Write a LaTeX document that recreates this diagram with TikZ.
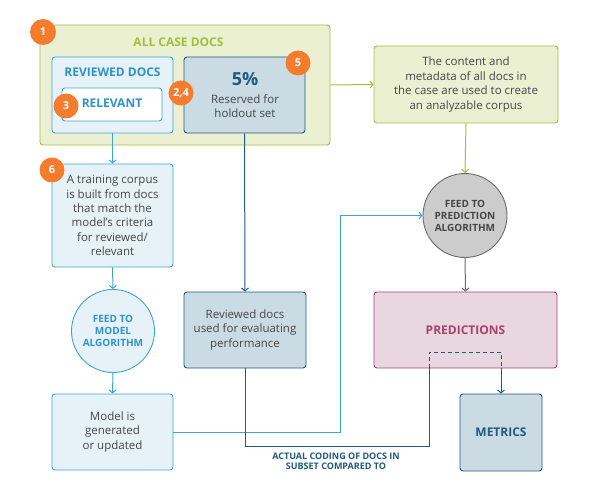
\documentclass[tikz,border=0pt]{standalone}
\usepackage{fontspec}
\setmainfont{Open Sans}
\usepackage{tikz}
\usetikzlibrary{positioning, calc, arrows.meta}

\definecolor{orng}{HTML}{F47C2C}
\definecolor{grn}{HTML}{A3BE3A}
\definecolor{grnfill}{HTML}{EBF0D3}
\definecolor{blu}{HTML}{3FA3D6}
\definecolor{blutxt}{HTML}{2E93C9}
\definecolor{blufill}{HTML}{E6F2F8}
\definecolor{dblu}{HTML}{1F5A80}
\definecolor{dblufill}{HTML}{CBDBE3}
\definecolor{grayfill}{HTML}{CCCCCC}
\definecolor{grayline}{HTML}{6B6B6B}
\definecolor{mag}{HTML}{A5426E}
\definecolor{magfill}{HTML}{E9D7DF}
\definecolor{txt}{HTML}{464646}

\tikzset{
  >={Straight Barb[length=3pt,width=7pt]},
  box/.style={draw, rounded corners=3pt, line width=0.9pt, align=center, inner sep=0pt,
    text=txt, font=\fontsize{11.5}{14.4}\selectfont},
  greenbox/.style={box, draw=grn, fill=grnfill},
  bluebox/.style={box, draw=blu, fill=blufill},
  darkbox/.style={box, draw=dblu, fill=dblufill},
  roundbox/.style={circle, line width=0.9pt, align=center, inner sep=0pt,
    font=\bfseries\fontsize{10}{12}\selectfont},
  badge/.style={circle, fill=orng, text=white, inner sep=0pt, minimum size=25pt,
    font=\bfseries\fontsize{11}{11}\selectfont},
  title/.style={font=\bfseries\fontsize{12}{13}\selectfont},
  link/.style={line width=1pt},
}

\begin{document}
\begin{tikzpicture}[x=1pt,y=-1pt]
    \useasboundingbox (0,0) rectangle (600,500);

    % all case docs
    \node[greenbox, minimum width=290, minimum height=120] (allcase) at (185,85) {};
    \node[title, text=grn] (allcaselbl) at (178.5,42) {ALL CASE DOCS};

    \node[bluebox, minimum width=121, minimum height=76] (reviewed) at (112.5,95) {};
    \node[title, text=blutxt] (reviewedlbl) at (112.5,72) {REVIEWED DOCS};
    \node[box, draw=blu, fill=white, minimum width=100, minimum height=33] (relevant) at (112,104.5) {};
    \node[title, text=blutxt] (relevantlbl) at (112,103.5) {RELEVANT};

    \node[darkbox, minimum width=121, minimum height=76] (holdout) at (244.5,95) {};
    \node[text=dblu, font=\bfseries\fontsize{18}{18}\selectfont] (pct) at (245,79) {5\%};
    \node[align=center, text=txt, font=\fontsize{11.5}{14}\selectfont] (holdoutlbl) at (245,106) {Reserved for\\holdout set};

    % right column
    \node[greenbox, minimum width=184, minimum height=77] (content) at (466,84.5)
        {The content and\\metadata of all docs in\\the case are used to create\\an analyzable corpus};
    \node[roundbox, draw=grayline, fill=grayfill, text=txt, minimum size=84] (predalgo) at (465,215.5)
        {FEED TO\\PREDICTION\\ALGORITHM};
    \node[box, draw=mag, fill=magfill, minimum width=183, minimum height=76] (predictions) at (465.5,330) {};
    \node[title, text=mag] (predlbl) at (465.5,330) {PREDICTIONS};
    \node[darkbox, minimum width=82, minimum height=77, text=dblu, font=\bfseries\fontsize{12}{13}\selectfont] (metrics) at (501,432.5) {METRICS};

    % left column
    \node[bluebox, minimum width=121, minimum height=103] (training) at (112.5,215.5)
        {A training corpus\\is built from docs\\that match the\\model's criteria\\for reviewed/\\relevant};
    \node[roundbox, draw=blu, fill=blufill, text=blutxt, minimum size=83] (modelalgo) at (113,331)
        {FEED TO\\MODEL\\ALGORITHM};
    \node[bluebox, minimum width=121, minimum height=76] (model) at (112.5,432)
        {Model is\\generated\\or updated};

    % middle column
    \node[darkbox, minimum width=122, minimum height=76] (evaluation) at (245,330)
        {Reviewed docs\\used for evaluating\\performance};

    \node[align=center, text=dblu, font=\bfseries\fontsize{9}{10}\selectfont] (comparelbl) at (336,461)
        {ACTUAL CODING OF DOCS IN\\SUBSET COMPARED TO};

    % badges
    \node[badge, minimum size=26pt] (b1) at (43,32) {1};
    \node[badge] (b24) at (181,93) {2,4};
    \node[badge] (b3) at (66,106) {3};
    \node[badge] (b5) at (298,63) {5};
    \node[badge] (b6) at (52,170) {6};

    % arrows
    \draw[link, grn, ->] (allcase.east) -- (content.west);
    \draw[link, grn, ->] (content.south) -- (predalgo.north);
    \draw[link, grayline, ->] (predalgo.south) -- (predictions.north);

    \draw[link, blu, ->] (reviewed.south) -- (training.north);
    \draw[link, blu, ->] (training.south) -- (modelalgo.north);
    \draw[link, blu, ->] (modelalgo.south) -- (model.north);
    \draw[link, blu, ->] (model.east) -- ++(167,0) |- (predalgo.west);

    \draw[link, dblu, ->] (holdout.south) -- (evaluation.north);

    % comparison
    \coordinate (dashL) at (429,352);
    \coordinate (dashR) at (metrics.north |- dashL);
    \draw[link, dblu] (evaluation.south) -- ++(0,78) -| (dashL |- predictions.south);
    \draw[link, dblu, dash pattern=on 4pt off 3pt] (dashL |- predictions.south) -- (dashL) -- (dashR) -- (dashR |- predictions.south);
    \draw[link, dblu, ->] (dashR |- predictions.south) -- (metrics.north);
\end{tikzpicture}
\end{document}
